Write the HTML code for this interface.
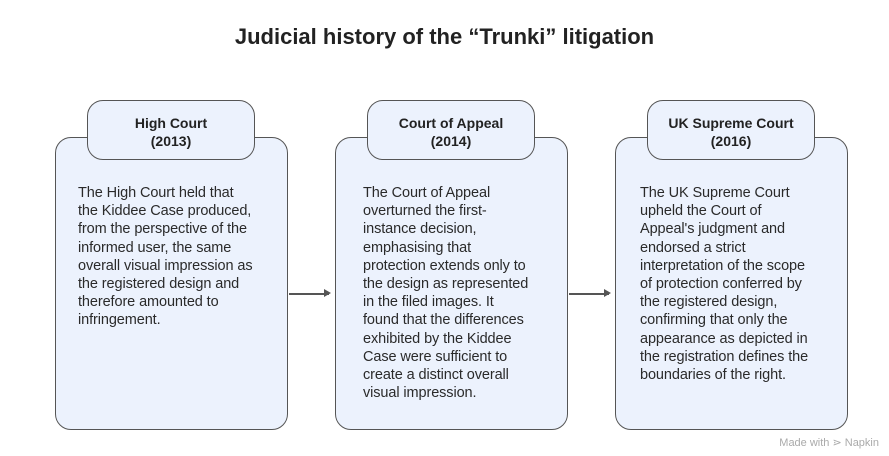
<!DOCTYPE html>
<html><head><meta charset="utf-8"><style>
body{margin:0;width:889px;height:456px;background:#fff;position:relative;font-family:"Liberation Sans",Arial,sans-serif;overflow:hidden}
.title{position:absolute;top:24px;left:0;width:889px;text-align:center;font-size:22px;font-weight:bold;color:#222}
.box{position:absolute;top:137px;width:233px;height:293px;background:#ecf2fd;border:1.5px solid #555;border-radius:16px;box-sizing:border-box}
.tab{position:absolute;top:100px;width:168px;height:60px;background:#ecf2fd;border:1.5px solid #555;border-radius:16px;box-sizing:border-box;text-align:center;font-weight:bold;font-size:14px;line-height:18px;padding-top:13px;color:#222}
.txt{position:absolute;top:184px;font-size:14.5px;line-height:18.2px;color:#2a2a2a;white-space:nowrap;letter-spacing:-0.1px}
.arr{position:absolute;top:293px;height:1.5px;background:#555;width:40px}
.arr:after{content:"";position:absolute;right:-2px;top:-4px;border-left:7px solid #555;border-top:4.5px solid transparent;border-bottom:4.5px solid transparent}
.nap{position:absolute;right:10px;top:436px;font-size:11px;color:#aaa}
</style></head><body>
<div class="title">Judicial history of the “Trunki” litigation</div>
<div class="box" style="left:55px"></div><div class="tab" style="left:87px">High Court<br>(2013)</div>
<div class="txt" style="left:78px">The High Court held that<br>the Kiddee Case produced,<br>from the perspective of the<br>informed user, the same<br>overall visual impression as<br>the registered design and<br>therefore amounted to<br>infringement.</div>
<div class="box" style="left:335px"></div><div class="tab" style="left:367px">Court of Appeal<br>(2014)</div>
<div class="txt" style="left:363px">The Court of Appeal<br>overturned the first-<br>instance decision,<br>emphasising that<br>protection extends only to<br>the design as represented<br>in the filed images. It<br>found that the differences<br>exhibited by the Kiddee<br>Case were sufficient to<br>create a distinct overall<br>visual impression.</div>
<div class="box" style="left:615px"></div><div class="tab" style="left:647px">UK Supreme Court<br>(2016)</div>
<div class="txt" style="left:640px">The UK Supreme Court<br>upheld the Court of<br>Appeal's judgment and<br>endorsed a strict<br>interpretation of the scope<br>of protection conferred by<br>the registered design,<br>confirming that only the<br>appearance as depicted in<br>the registration defines the<br>boundaries of the right.</div>
<div class="arr" style="left:289px"></div><div class="arr" style="left:569px"></div>
<div class="nap">Made with ⋗ Napkin</div>
</body></html>
